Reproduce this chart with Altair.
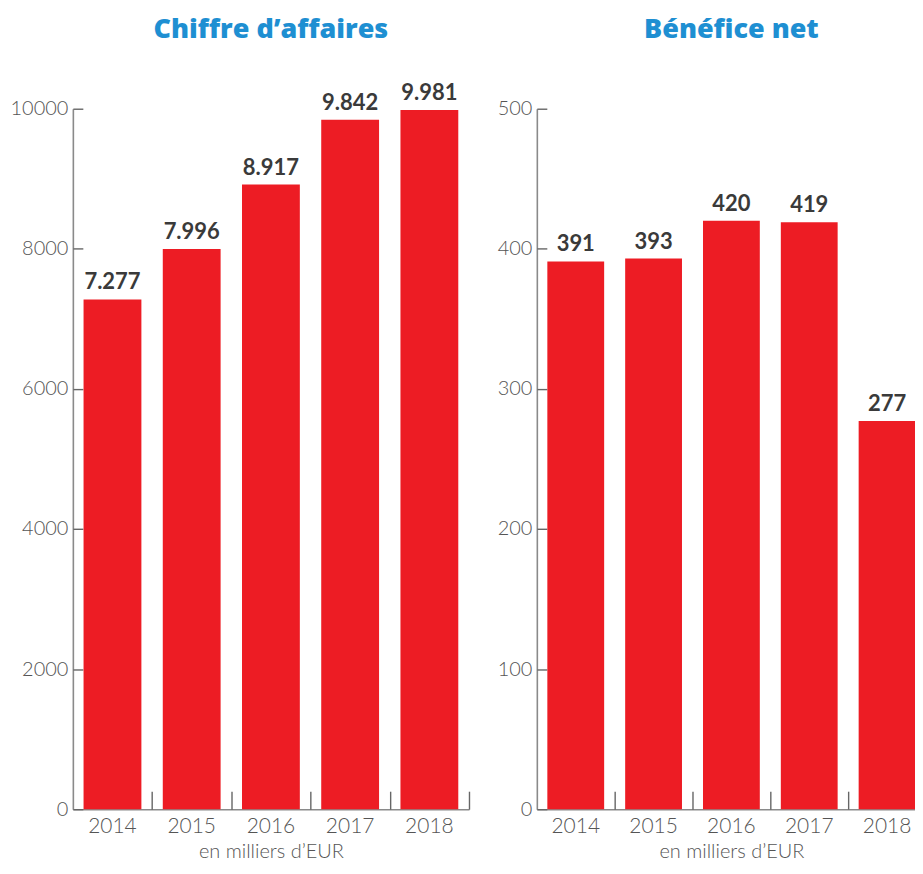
import altair as alt
import pandas as pd

years = ["2014", "2015", "2016", "2017", "2018"]
ca_values = [7277, 7996, 8917, 9842, 9981]
bn_values = [391, 393, 420, 419, 277]
ca_ticks = [0, 2000, 4000, 6000, 8000, 10000]
bn_ticks = [0, 100, 200, 300, 400, 500]
panel_titles = ["Chiffre d\u2019affaires", "B\u00e9n\u00e9fice net"]
unit_title = "en milliers d\u2019EUR"

RED = "#ED1C24"
BLUE = "#1E8FD2"
GREY = "#555555"
AXIS = "#8a8a8a"
H = 702
PI = 0.27


def fmt(v):
    return f"{v:,}".replace(",", ".")


def panel(values, ticks, dmax, title, width, title_offset):
    df = pd.DataFrame({"year": years, "value": values,
                       "label": [fmt(v) for v in values]})
    xs = alt.Scale(paddingInner=PI, paddingOuter=PI / 2)
    ys = alt.Scale(domain=[0, dmax], nice=False)
    step = width / 5.0
    half_gap = PI * step / 2
    bars = alt.Chart(df).mark_bar(color=RED).encode(
        x=alt.X("year:N", scale=xs, sort=years,
                axis=alt.Axis(title=unit_title, labelAngle=0, ticks=False,
                              domainColor=AXIS, domainWidth=1.6,
                              labelFontSize=21, labelPadding=6,
                              titleFontSize=20, titlePadding=5)),
        y=alt.Y("value:Q", scale=ys,
                axis=alt.Axis(values=ticks, format="d", title=None, ticks=False,
                              grid=False, domainColor=AXIS, domainWidth=1.6,
                              labelFontSize=20, labelPadding=5)),
    )
    text = alt.Chart(df).mark_text(baseline="alphabetic", dy=-10, fontSize=22,
                                   fontWeight="bold", color="#3a3a3a",
                                   font="Lato").encode(
        x=alt.X("year:N", scale=xs, sort=years,
                axis=alt.Axis(orient="top", offset=-H, labels=False, domain=False,
                              title=None, bandPosition=1, tickOffset=half_gap,
                              tickSize=18, tickColor="#666666", tickWidth=1.4)),
        y=alt.Y("value:Q", scale=ys,
                axis=alt.Axis(orient="right", offset=-width, values=ticks,
                              labels=False, domain=False, title=None, grid=False,
                              tickSize=10, tickColor="#666666", tickWidth=1.4)),
        text="label:N",
    )
    return alt.layer(bars, text).resolve_axis(
        x="independent", y="independent"
    ).properties(
        width=width, height=H,
        title=alt.TitleParams(title, anchor="middle", frame="group",
                              offset=title_offset),
    )


left = panel(ca_values, ca_ticks, 10000, panel_titles[0], 397, 38)
right = panel(bn_values, bn_ticks, 500, panel_titles[1], 390, 55)

chart = alt.hconcat(left, right, spacing=27).properties(
    padding={"left": 2, "top": 7, "right": -12, "bottom": 0}
).configure_view(stroke=None).configure_axis(
    labelFont="Lato", titleFont="Lato",
    labelColor=GREY, titleColor=GREY, labelFontWeight=300,
    titleFontWeight=300,
).configure_title(
    font="Open Sans", fontSize=27, fontWeight=800, color=BLUE
)

chart.save("out.html", embed_options={"renderer": "svg", "actions": False})
